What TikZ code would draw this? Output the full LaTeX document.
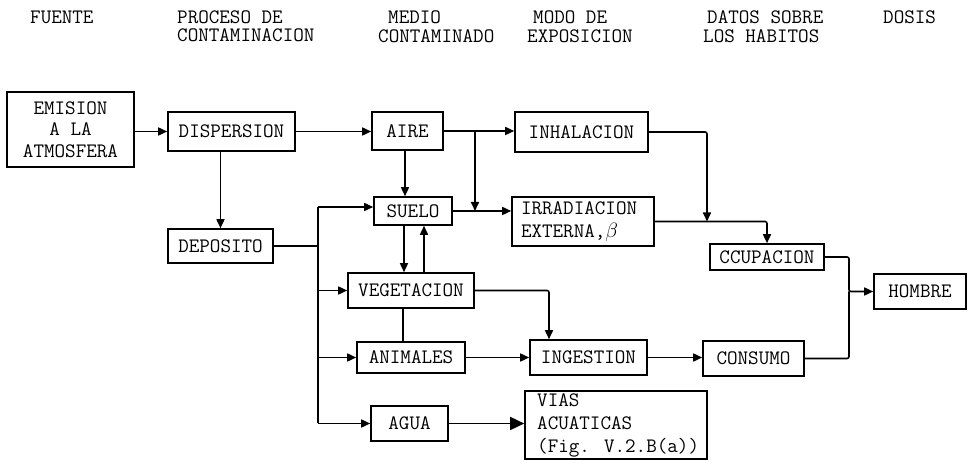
\documentclass[tikz,border=0pt]{standalone}
\usepackage{fontspec}
\usetikzlibrary{arrows.meta}
\newcommand{\tw}{\ttfamily}
\begin{document}
\begin{tikzpicture}[x=1pt,y=-1pt,
  box/.style={draw, line width=1.6pt, inner sep=0pt, font=\tw\fontsize{20.5}{21}\selectfont},
  lab/.style={inner sep=0pt, anchor=west, align=left, font=\tw\fontsize{20.5}{18.5}\selectfont},
  ln/.style={line width=1.6pt, rounded corners=2pt},
  arr/.style={ln, -{Triangle[length=9pt,width=8pt]}},
  bigarr/.style={ln, -{Triangle[length=14pt,width=13pt]}},
]
\useasboundingbox (0,0) rectangle (970,462);

% headers
\node[lab] (h1) at (30,17) {FUENTE};
\node[lab] (h2) at (177,26.3) {PROCESO DE\\CONTAMINACION};
\node[lab] (h3) at (378,26.5) {\hspace*{10pt}MEDIO\\CONTAMINADO};
\node[lab] (h4) at (527,26.5) {\hspace*{6pt}MODO DE\\EXPOSICION};
\node[lab] (h5) at (703,26.5) {\hspace*{4pt}DATOS SOBRE\\LOS HABITOS};
\node[lab] (h6) at (883,17) {DOSIS};

% boxes
\node[box, minimum width=127pt, minimum height=75pt, align=center, font=\tw\fontsize{20.5}{21.5}\selectfont] (emis) at (70.5,129.5) {EMISION\\A LA\\ATMOSFERA};
\node[box, minimum width=127pt, minimum height=39pt] (disp) at (231.5,131.5) {DISPERSION};
\node[box, minimum width=71pt, minimum height=38pt] (aire) at (407.5,131) {AIRE};
\node[box, minimum width=133pt, minimum height=40pt] (inha) at (581.5,132) {INHALACION};
\node[box, minimum width=78pt, minimum height=28pt] (suelo) at (413,211) {SUELO};
\node[box, minimum width=142pt, minimum height=49pt, text width=124pt, align=left, font=\tw\fontsize{20.5}{23}\selectfont] (irrad) at (583,221.5) {IRRADIACION\\EXTERNA,$\beta$};
\node[box, minimum width=114pt, minimum height=26pt] (ocup) at (767,257) {CCUPACION};
\node[box, minimum width=92pt, minimum height=35pt] (hombre) at (920,291.5) {HOMBRE};
\node[box, minimum width=105pt, minimum height=34pt] (depo) at (220.5,246) {DEPOSITO};
\node[box, minimum width=126pt, minimum height=35pt] (veg) at (411,290.5) {VEGETACION};
\node[box, minimum width=108pt, minimum height=31pt] (anim) at (411,357.5) {ANIMALES};
\node[box, minimum width=117pt, minimum height=35pt] (inge) at (588.5,357.5) {INGESTION};
\node[box, minimum width=101pt, minimum height=35pt] (cons) at (753.5,358.5) {CONSUMO};
\node[box, minimum width=77pt, minimum height=35pt] (agua) at (409.5,423.5) {AGUA};
\node[box, minimum width=182pt, minimum height=68pt] (vias) at (616,425) {};
\node[inner sep=0pt, anchor=west, align=left, font=\tw\fontsize{20.5}{23}\selectfont] (viast) at (537,425) {VIAS\\ACUATICAS\\(Fig. V.2.B(a))};

% connectors
\draw[arr] (disp.west -| emis.east) -- (disp.west);
\draw[arr] (disp.east) -- (disp.east -| aire.west);
\draw[arr] (aire.east) -- (aire.east -| inha.west);
\coordinate (j1) at (475,131);
\coordinate (j1b) at (475,211);
\draw[arr] (j1) -- (j1b);
\draw[arr] (suelo.east) -- (suelo.east -| irrad.west);
\draw[arr] ([xshift=-2.5pt]aire.south) -- ([xshift=-2.5pt]aire.south |- suelo.north);
\draw[arr] (depo.north |- disp.south) -- (depo.north);

\coordinate (bt) at (318,207);
\coordinate (bd) at (318,246);
\coordinate (bv) at (318,290.5);
\coordinate (ba) at (318,357.5);
\coordinate (bb) at (318,423.5);
\draw[ln] (bt) -- (bb);
\draw[ln] (depo.east) -- (bd);
\draw[arr] (bt) -- (bt -| suelo.west);
\draw[arr] (bv) -- (veg.west);
\draw[arr] (ba) -- (anim.west);
\draw[arr] (bb) -- (agua.west);

\draw[arr] ([xshift=-9pt]suelo.south) -- ([xshift=-9pt]suelo.south |- veg.north);
\draw[arr] ([xshift=11pt]suelo.south |- veg.north) -- ([xshift=11pt]suelo.south);
\draw[ln] ([xshift=-8pt]veg.south) -- ([xshift=-8pt]veg.south |- anim.north);
\draw[arr] (veg.east) -| ([xshift=-39.5pt]inge.north);
\draw[arr] (anim.east) -- (anim.east -| inge.west);
\draw[arr] (inge.east) -- (inge.east -| cons.west);
\draw[bigarr] (agua.east) -- (agua.east -| vias.west);

\coordinate (j2) at (707,221.5);
\draw[arr] (inha.east) -| (j2);
\draw[arr] (irrad.east) -| (ocup.north);
\coordinate (j3) at (849,291.5);
\draw[arr] (ocup.east) -| (j3) -- (hombre.west);
\draw[ln] (cons.east) -| (j3);
\end{tikzpicture}
\end{document}
